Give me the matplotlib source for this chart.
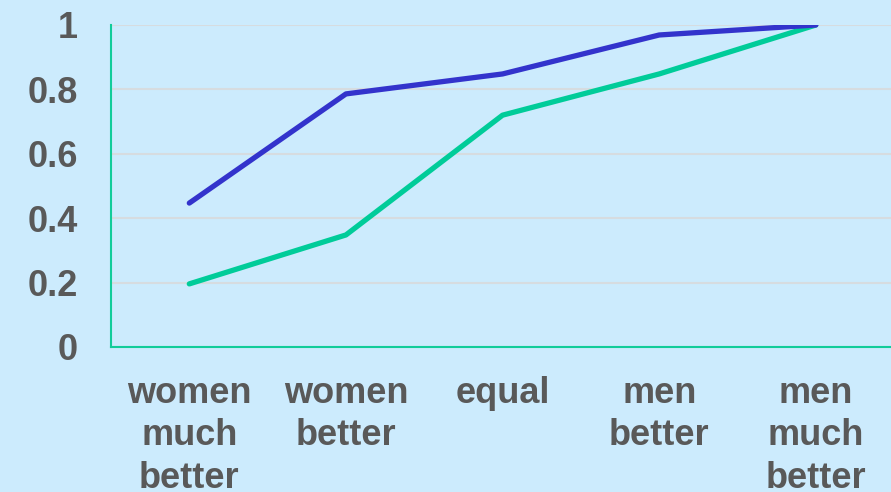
import matplotlib.pyplot as plt

# perceived ability: share answering at or below each category
categories = ['women\nmuch\nbetter', 'women\nbetter', 'equal', 'men\nbetter', 'men\nmuch\nbetter']
blue_vals = [0.447, 0.786, 0.848, 0.969, 1.0]
green_vals = [0.196, 0.348, 0.720, 0.848, 1.0]
y_ticks = [0, 0.2, 0.4, 0.6, 0.8, 1.0]
y_labels = ['0', '0.2', '0.4', '0.6', '0.8', '1']

bg = '#CCEBFD'
text_color = '#595959'
spine_color = '#12CC9A'

plt.rcParams['font.family'] = ['Liberation Sans', 'DejaVu Sans']

fig = plt.figure(figsize=(8.91, 4.92), dpi=100, facecolor=bg)
ax = fig.add_axes([111 / 891, 1 - 347 / 492, 780 / 891, 322 / 492], facecolor=bg)

x = list(range(len(categories)))
ax.plot(x, green_vals, color='#00CC99', linewidth=3.8, solid_capstyle='round', zorder=3)
ax.plot(x, blue_vals, color='#3333CC', linewidth=3.8, solid_capstyle='round', zorder=4)

ax.set_xlim(-0.5, 4.48)
ax.set_ylim(0, 1)
ax.set_yticks(y_ticks)
ax.set_yticklabels(y_labels)
ax.set_xticks(x)
ax.set_xticklabels(categories, linespacing=1.27)

for lbl in ax.get_xticklabels() + ax.get_yticklabels():
    lbl.set_fontsize(26)
    lbl.set_fontweight('bold')
    lbl.set_color(text_color)

ax.tick_params(axis='both', length=0)
ax.tick_params(axis='y', pad=24)
ax.tick_params(axis='x', pad=21)

ax.yaxis.grid(True, color='#D6DCE0', linewidth=1.5)
ax.set_axisbelow(True)

for side in ['top', 'right']:
    ax.spines[side].set_visible(False)
for side in ['left', 'bottom']:
    ax.spines[side].set_color(spine_color)
    ax.spines[side].set_linewidth(1.5)

fig.savefig('out.png', dpi=100, facecolor=bg)
